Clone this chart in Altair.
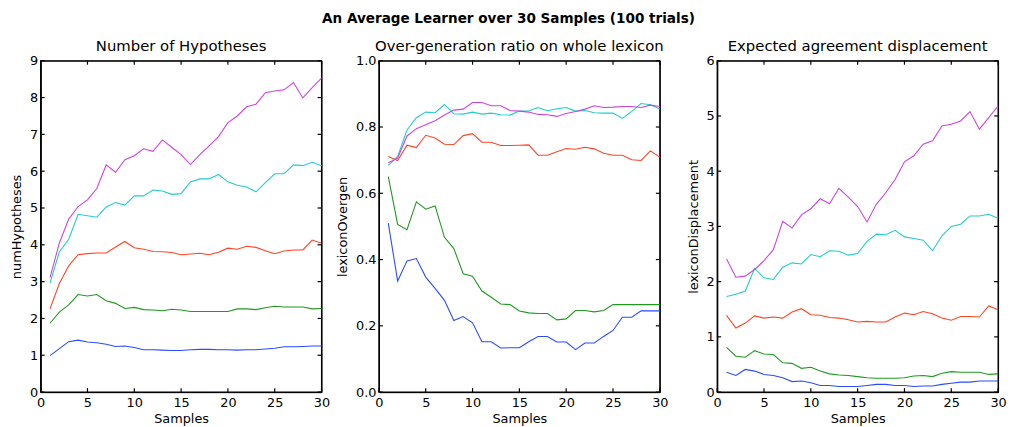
import altair as alt
import pandas as pd

samples = list(range(1, 31))
series_names = ["s1", "s2", "s3", "s4", "s5"]
series_colors = ["#2b4bff", "#1f9a1f", "#ff4422", "#22cccc", "#cc44dd"]

hyp_blue = [0.99,1.18,1.37,1.41,1.36,1.34,1.30,1.24,1.25,1.21,1.15,1.15,1.14,1.13,1.13,1.15,1.16,1.16,1.15,1.15,1.14,1.15,1.15,1.17,1.19,1.23,1.23,1.24,1.25,1.25]
hyp_green = [1.87,2.17,2.37,2.65,2.61,2.65,2.48,2.41,2.27,2.30,2.24,2.23,2.21,2.25,2.23,2.19,2.19,2.19,2.19,2.19,2.26,2.26,2.24,2.29,2.33,2.31,2.31,2.31,2.26,2.27]
hyp_red = [2.26,2.95,3.43,3.73,3.76,3.78,3.78,3.94,4.09,3.92,3.88,3.82,3.81,3.79,3.73,3.75,3.77,3.73,3.80,3.91,3.88,3.96,3.93,3.84,3.76,3.83,3.86,3.86,4.13,4.04]
hyp_cyan = [2.96,3.81,4.15,4.83,4.79,4.75,5.03,5.15,5.08,5.33,5.33,5.49,5.46,5.37,5.39,5.71,5.79,5.79,5.91,5.71,5.62,5.57,5.44,5.69,5.93,5.93,6.17,6.15,6.24,6.15]
hyp_magenta = [3.11,4.05,4.70,5.04,5.22,5.53,6.17,5.97,6.31,6.42,6.61,6.54,6.85,6.65,6.45,6.18,6.45,6.69,6.94,7.32,7.50,7.75,7.82,8.13,8.18,8.21,8.41,7.99,8.27,8.53]

ovg_blue = [0.510,0.335,0.396,0.403,0.347,0.313,0.277,0.216,0.228,0.209,0.152,0.152,0.133,0.134,0.134,0.152,0.168,0.168,0.151,0.151,0.128,0.148,0.148,0.168,0.186,0.226,0.226,0.245,0.245,0.245]
ovg_green = [0.650,0.506,0.490,0.574,0.552,0.562,0.467,0.433,0.357,0.350,0.305,0.286,0.266,0.264,0.245,0.239,0.237,0.237,0.218,0.221,0.246,0.246,0.242,0.246,0.264,0.264,0.264,0.264,0.264,0.264]
ovg_red = [0.711,0.699,0.745,0.738,0.775,0.767,0.748,0.747,0.774,0.780,0.754,0.754,0.744,0.744,0.745,0.746,0.715,0.715,0.725,0.735,0.733,0.739,0.734,0.721,0.715,0.715,0.701,0.699,0.728,0.709]
ovg_cyan = [0.684,0.711,0.791,0.828,0.845,0.843,0.868,0.840,0.839,0.845,0.839,0.842,0.837,0.836,0.848,0.849,0.859,0.849,0.855,0.859,0.848,0.850,0.843,0.842,0.842,0.826,0.847,0.871,0.867,0.854]
ovg_magenta = [0.692,0.706,0.773,0.795,0.807,0.819,0.836,0.851,0.854,0.874,0.874,0.864,0.864,0.850,0.848,0.845,0.838,0.837,0.832,0.841,0.847,0.854,0.864,0.859,0.860,0.862,0.862,0.859,0.866,0.862]

dsp_blue = [0.36,0.30,0.41,0.38,0.32,0.30,0.26,0.19,0.20,0.17,0.12,0.12,0.10,0.10,0.10,0.12,0.14,0.14,0.12,0.12,0.10,0.11,0.11,0.14,0.16,0.18,0.18,0.20,0.20,0.20]
dsp_green = [0.81,0.65,0.63,0.75,0.69,0.68,0.53,0.52,0.43,0.45,0.38,0.33,0.31,0.30,0.28,0.26,0.25,0.25,0.25,0.26,0.29,0.30,0.28,0.34,0.37,0.36,0.36,0.36,0.32,0.33]
dsp_red = [1.39,1.16,1.25,1.38,1.34,1.36,1.34,1.45,1.51,1.40,1.39,1.35,1.34,1.31,1.27,1.28,1.27,1.27,1.36,1.43,1.40,1.46,1.42,1.34,1.30,1.37,1.37,1.36,1.56,1.49]
dsp_cyan = [1.73,1.77,1.83,2.24,2.07,2.04,2.26,2.34,2.32,2.49,2.45,2.56,2.55,2.48,2.51,2.73,2.86,2.85,2.93,2.81,2.78,2.75,2.56,2.83,3.00,3.04,3.19,3.19,3.22,3.15]
dsp_magenta = [2.41,2.08,2.10,2.22,2.38,2.58,3.09,2.97,3.21,3.32,3.50,3.41,3.69,3.53,3.36,3.08,3.40,3.61,3.85,4.17,4.28,4.49,4.55,4.82,4.85,4.91,5.08,4.76,4.97,5.18]

x_ticks = [0, 5, 10, 15, 20, 25, 30]
hyp_ticks = [0, 1, 2, 3, 4, 5, 6, 7, 8, 9]
ovg_ticks = [0.0, 0.2, 0.4, 0.6, 0.8, 1.0]
dsp_ticks = [0, 1, 2, 3, 4, 5, 6]

W, H = 284, 335
FONT = "DejaVu Sans"
TICK = 4


def panel(series_lists, title, ytitle, ydomain, yticks, yfmt):
    rows = []
    for name, vals in zip(series_names, series_lists):
        for s, v in zip(samples, vals):
            rows.append({"Samples": s, "value": v, "series": name})
    df = pd.DataFrame(rows)
    xs = alt.Scale(domain=[0, 30], nice=False, zero=False)
    ys = alt.Scale(domain=ydomain, nice=False, zero=False)
    xa = alt.Axis(values=x_ticks, title="Samples", format="d", labelOverlap=False,
                  labelFlush=False)
    ya = alt.Axis(values=yticks, title=ytitle, format=yfmt, labelOverlap=False,
                  labelFlush=False)

    lines = alt.Chart(df).mark_line(strokeWidth=1.1).encode(
        x=alt.X("Samples:Q", scale=xs, axis=xa),
        y=alt.Y("value:Q", scale=ys, axis=ya),
        color=alt.Color("series:N", legend=None,
                        scale=alt.Scale(domain=series_names, range=series_colors)),
        order=alt.Order("Samples:Q"),
        detail="series:N",
    )

    frame_df = pd.DataFrame({"x0": [0], "x1": [30], "y0": [ydomain[0]], "y1": [ydomain[1]]})
    frame = alt.Chart(frame_df).mark_rect(fillOpacity=0, stroke="black", strokeWidth=1.2).encode(
        x=alt.X("x0:Q", scale=xs, axis=xa), x2="x1:Q",
        y=alt.Y("y0:Q", scale=ys, axis=ya), y2="y1:Q",
    )

    xt = pd.DataFrame({"Samples": x_ticks})
    yt = pd.DataFrame({"value": yticks})
    tick_style = dict(color="black", strokeWidth=1.2)
    xb = alt.Chart(xt).mark_rule(**tick_style).encode(
        x=alt.X("Samples:Q", scale=xs, axis=xa), y=alt.value(H), y2=alt.value(H - TICK))
    xtp = alt.Chart(xt).mark_rule(**tick_style).encode(
        x=alt.X("Samples:Q", scale=xs, axis=xa), y=alt.value(0), y2=alt.value(TICK))
    yl = alt.Chart(yt).mark_rule(**tick_style).encode(
        y=alt.Y("value:Q", scale=ys, axis=ya), x=alt.value(0), x2=alt.value(TICK))
    yr = alt.Chart(yt).mark_rule(**tick_style).encode(
        y=alt.Y("value:Q", scale=ys, axis=ya), x=alt.value(W), x2=alt.value(W - TICK))

    return alt.layer(frame, lines, xb, xtp, yl, yr).properties(
        width=W, height=H,
        title=alt.TitleParams(title, fontSize=15, font=FONT, fontWeight="normal",
                              offset=1, color="black"),
    )


p1 = panel([hyp_blue, hyp_green, hyp_red, hyp_cyan, hyp_magenta],
           "Number of Hypotheses", "numHypotheses", [0, 9], hyp_ticks, "d")
p2 = panel([ovg_blue, ovg_green, ovg_red, ovg_cyan, ovg_magenta],
           "Over-generation ratio on whole lexicon", "lexiconOvergen", [0, 1], ovg_ticks, ".1f")
p3 = panel([dsp_blue, dsp_green, dsp_red, dsp_cyan, dsp_magenta],
           "Expected agreement displacement", "lexiconDisplacement", [0, 6], dsp_ticks, "d")

chart = alt.hconcat(p1, p2, p3, spacing=58, bounds="flush").properties(
    title=alt.TitleParams("An Average Learner over 30 Samples (100 trials)",
                          fontSize=13.7, font=FONT, fontWeight="bold",
                          anchor="middle", offset=13, color="black"),
    padding={"left": 2, "top": 1, "right": 0, "bottom": 0},
).configure_view(
    stroke="black", strokeWidth=1, fill="white"
).configure_axis(
    grid=False, domain=True, domainColor="black", domainWidth=1, ticks=False,
    labelFont=FONT, labelFontSize=13, labelColor="black", labelPadding=3,
    titleFont=FONT, titleFontSize=13, titleColor="black", titleFontWeight="normal",
    titlePadding=3,
).configure_axisX(
    labelPadding=5,
).configure_axisY(
    titlePadding=6,
)

chart.save("out.html", embed_options={"renderer": "svg", "actions": False})
